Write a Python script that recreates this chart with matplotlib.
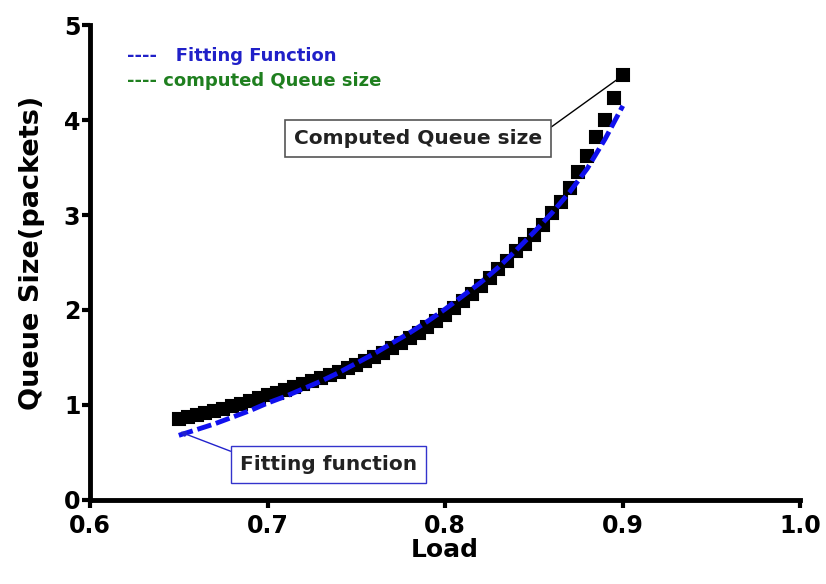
import matplotlib.pyplot as plt
import numpy as np

plt.rcParams['font.family'] = ['DejaVu Sans']

# computed queue size (black squares)
load = [0.650, 0.655, 0.660, 0.665, 0.670, 0.675, 0.680, 0.685, 0.690, 0.695,
        0.700, 0.705, 0.710, 0.715, 0.720, 0.725, 0.730, 0.735, 0.740, 0.745,
        0.750, 0.755, 0.760, 0.765, 0.770, 0.775, 0.780, 0.785, 0.790, 0.795,
        0.800, 0.805, 0.810, 0.815, 0.820, 0.825, 0.830, 0.835, 0.840, 0.845,
        0.850, 0.855, 0.860, 0.865, 0.870, 0.875, 0.880, 0.885, 0.890, 0.895,
        0.900]
queue = [0.85, 0.87, 0.89, 0.91, 0.94, 0.96, 0.99, 1.01, 1.04, 1.07,
         1.10, 1.13, 1.16, 1.19, 1.22, 1.25, 1.28, 1.32, 1.35, 1.39,
         1.42, 1.46, 1.51, 1.55, 1.60, 1.65, 1.70, 1.76, 1.82, 1.88,
         1.95, 2.02, 2.09, 2.17, 2.25, 2.34, 2.43, 2.52, 2.62, 2.70,
         2.79, 2.90, 3.02, 3.14, 3.28, 3.45, 3.62, 3.82, 4.00, 4.23,
         4.47]

# fitting function (blue dashed)
fit_load = [0.65, 0.66, 0.67, 0.68, 0.69, 0.70, 0.71, 0.72, 0.73, 0.74,
            0.75, 0.76, 0.77, 0.78, 0.79, 0.80, 0.81, 0.82, 0.83, 0.84,
            0.85, 0.86, 0.87, 0.88, 0.89, 0.90]
fit_queue = [0.68, 0.74, 0.80, 0.87, 0.94, 1.02, 1.09, 1.17, 1.25, 1.34,
             1.44, 1.54, 1.65, 1.76, 1.88, 2.01, 2.15, 2.29, 2.45, 2.63,
             2.82, 3.02, 3.24, 3.49, 3.80, 4.15]

fig = plt.figure(figsize=(8.26, 5.84), dpi=100)
ax = fig.add_axes([0.109, 0.144, 0.86, 0.813])

ax.plot(load, queue, linestyle='none', marker='s', markersize=9,
        mfc='black', mec='black', mew=1.5)
ax.plot(fit_load, fit_queue, color='#1010ee', linestyle=(0, (3, 1)), linewidth=3.5)

ax.set_xlim(0.6, 1.0)
ax.set_ylim(0, 5)
ax.set_xticks([0.6, 0.7, 0.8, 0.9, 1.0])
ax.set_xticklabels(['0.6', '0.7', '0.8', '0.9', '1.0'])
ax.set_yticks([0, 1, 2, 3, 4, 5])

for s in ['top', 'right']:
    ax.spines[s].set_visible(False)
for s in ['left', 'bottom']:
    ax.spines[s].set_linewidth(3.5)
ax.tick_params(width=3, length=6, labelsize=17)
ax.tick_params(axis='x', pad=4)
ax.tick_params(axis='y', pad=1)
for lab in ax.get_xticklabels() + ax.get_yticklabels():
    lab.set_fontweight('bold')

ax.set_xlabel('Load', fontsize=18, fontweight='bold', labelpad=0)
ax.set_ylabel('Queue Size(packets)', fontsize=19.5, fontweight='bold')
ax.yaxis.set_label_coords(-0.063, 0.52)

# text legend
ax.text(0.052, 0.935, '----   Fitting Function', transform=ax.transAxes,
        color='#2020c8', fontsize=13, fontweight='bold', va='center')
ax.text(0.052, 0.882, '---- computed Queue size', transform=ax.transAxes,
        color='#1f7f1f', fontsize=13, fontweight='bold', va='center')

# annotations
ax.annotate('Computed Queue size', xy=(load[-1], queue[-1]), xytext=(0.7845, 3.805),
            ha='center', va='center', fontsize=14.5, fontweight='bold',
            color='#222222',
            bbox=dict(boxstyle='square,pad=0.45', fc='white', ec='#555555', lw=1.2),
            arrowprops=dict(arrowstyle='-', color='black', lw=1,
                            shrinkA=0, shrinkB=3, relpos=(1, 0.75)))
ax.annotate('Fitting function', xy=(0.6507, 0.716), xytext=(0.7344, 0.374),
            ha='center', va='center', fontsize=14.5, fontweight='bold',
            color='#222222',
            bbox=dict(boxstyle='square,pad=0.45', fc='white', ec='#3333cc', lw=1),
            arrowprops=dict(arrowstyle='-|>', color='#2222cc', lw=1,
                            mutation_scale=8, shrinkA=0, shrinkB=0,
                            relpos=(0, 1)))

fig.savefig('out.png', dpi=100)
